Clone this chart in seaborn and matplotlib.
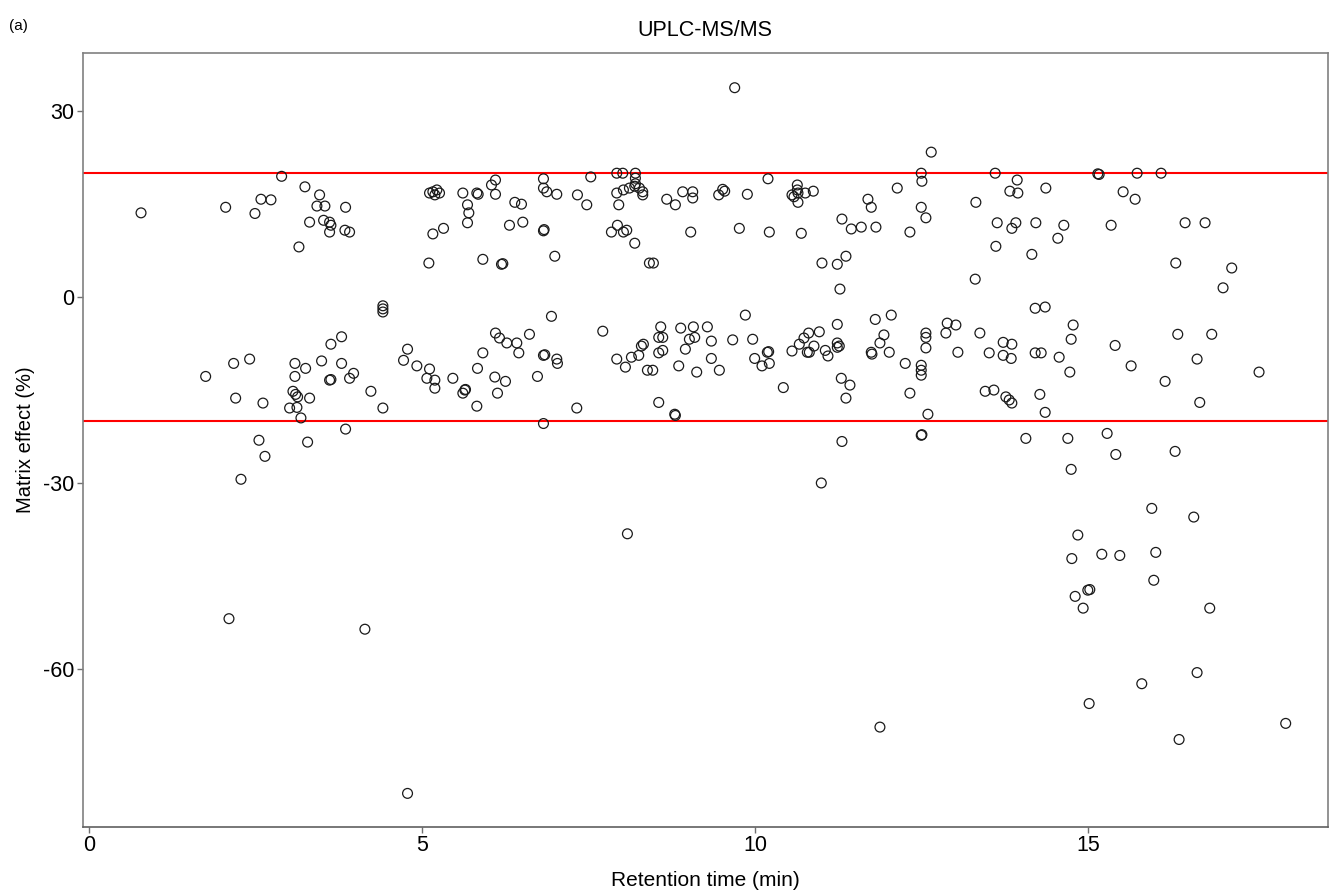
import numpy as np
import pandas as pd
import seaborn as sns
import matplotlib
matplotlib.use("Agg")
import matplotlib.pyplot as plt

# Retention time (min) and matrix effect (%) -- points above zero
rt_upper = [0.78, 2.05, 2.49, 2.58, 2.73, 2.89, 3.15, 3.24, 3.31, 3.46, 3.42, 3.54, 3.52, 3.61, 3.61,
            3.63, 3.84, 3.91, 3.85, 5.11, 5.16, 5.22, 5.26, 5.19, 5.61, 5.82, 5.84, 5.68, 5.70, 5.68,
            5.16, 5.32, 5.10, 5.91, 6.19, 6.21, 6.10, 6.04, 6.10, 6.39, 6.49, 6.31, 6.51, 6.82, 6.82,
            6.87, 7.02, 6.82, 6.83, 6.99, 7.33, 7.53, 7.47, 7.92, 8.01, 8.20, 8.20, 8.20, 7.92, 8.02,
            8.11, 8.19, 8.26, 8.31, 8.31, 7.95, 7.93, 7.84, 8.02, 8.07, 8.19, 8.41, 8.47, 8.67, 8.80,
            8.91, 9.06, 9.06, 9.03, 9.45, 9.51, 9.54, 9.69, 9.88, 10.19, 9.76, 10.21, 10.69, 10.63, 10.63,
            10.64, 10.55, 10.58, 10.64, 10.75, 10.87, 11.30, 11.44, 11.59, 11.81, 11.36, 11.23, 11.00, 11.27,
            11.69, 11.74, 12.13, 12.32, 12.64, 12.49, 12.50, 12.49, 12.56, 13.30, 13.31, 13.60, 13.93, 13.82,
            13.94, 13.63, 13.91, 13.85, 14.21, 13.61, 14.15, 14.36, 15.14, 15.16, 15.73, 16.09, 15.52, 15.70,
            14.63, 14.54, 15.34, 16.45, 16.75, 16.31, 17.15, 17.02]
me_upper = [13.6, 14.5, 13.5, 15.8, 15.7, 19.5, 8.1, 17.8, 12.1, 16.5, 14.7, 14.7, 12.4, 12.1, 10.5,
            11.6, 10.8, 10.5, 14.5, 16.8, 17.0, 17.3, 16.8, 16.5, 16.8, 16.8, 16.6, 14.9, 13.6, 12.0,
            10.2, 11.1, 5.5, 6.1, 5.3, 5.4, 18.9, 18.1, 16.6, 15.3, 15.0, 11.6, 12.1, 19.1, 17.6,
            17.0, 16.6, 10.7, 10.9, 6.6, 16.5, 19.4, 14.9, 20.0, 20.0, 20.0, 19.2, 18.3, 16.8, 17.3,
            17.6, 17.9, 17.6, 17.0, 16.5, 14.9, 11.6, 10.5, 10.5, 10.8, 8.7, 5.5, 5.5, 15.8, 14.9,
            17.0, 17.0, 16.0, 10.5, 16.5, 17.4, 17.1, 33.8, 16.6, 19.1, 11.1, 10.5, 10.3, 18.1, 17.3,
            16.8, 16.5, 16.2, 15.3, 16.8, 17.1, 12.6, 11.0, 11.3, 11.3, 6.6, 5.3, 5.5, 1.3,
            15.8, 14.5, 17.6, 10.5, 23.4, 20.0, 18.7, 14.5, 12.8, 2.9, 15.3, 20.0, 18.9, 17.1,
            16.8, 12.0, 12.0, 11.1, 12.0, 8.2, 6.9, 17.6, 19.9, 19.8, 20.0, 20.0, 17.0, 15.8,
            11.6, 9.5, 11.6, 12.0, 12.0, 5.5, 4.7, 1.5]

# Points between 0 and about -36 %
rt_lower = [1.75, 2.17, 2.41, 2.20, 2.61, 2.55, 2.64, 2.28, 3.09, 3.09, 3.25, 3.06, 3.10, 3.13, 3.31,
            3.01, 3.12, 3.18, 3.28, 3.49, 3.61, 3.63, 3.63, 3.79, 3.79, 3.91, 3.97, 4.23, 4.41, 3.85,
            4.41, 4.41, 4.41, 4.78, 4.72, 4.92, 5.11, 5.07, 5.19, 5.19, 5.46, 5.64, 5.61, 5.65, 5.82,
            5.91, 5.83, 6.09, 6.25, 6.13, 6.10, 6.16, 6.27, 6.42, 6.45, 6.61, 6.82, 6.84, 6.94, 7.02,
            7.03, 6.73, 6.82, 7.32, 7.71, 7.92, 8.05, 8.14, 8.25, 8.29, 8.32, 8.38, 8.46, 8.55, 8.61,
            8.58, 8.55, 8.61, 8.55, 8.79, 8.80, 8.88, 8.85, 9.01, 9.07, 9.09, 8.95, 9.12, 9.28, 9.34,
            9.34, 9.46, 9.66, 9.85, 9.96, 9.99, 10.10, 10.21, 10.18, 10.20, 10.42, 10.55, 10.66, 10.73,
            10.80, 10.96, 10.78, 10.81, 10.88, 11.05, 11.09, 11.23, 11.23, 11.26, 11.23, 11.29, 11.42,
            11.36, 11.30, 10.99, 11.80, 12.04, 11.74, 11.75, 11.87, 11.93, 12.01, 12.25, 12.32, 12.49,
            12.49, 12.49, 12.56, 12.56, 12.56, 12.59, 12.49, 12.50, 12.88, 13.01, 12.86, 13.04, 13.37,
            13.51, 13.72, 13.85, 13.72, 13.84, 13.45, 13.58, 13.76, 13.81, 13.85, 14.06, 14.20, 14.35,
            14.20, 14.29, 14.27, 14.35, 14.77, 14.74, 15.40, 16.34, 16.85, 14.56, 14.72, 15.64, 16.15,
            16.63, 17.56, 16.67, 14.69, 14.74, 15.28, 15.41, 16.30, 15.95, 16.58]
me_lower = [-12.8, -10.7, -10.0, -16.3, -17.1, -23.1, -25.7, -29.4, -10.7, -12.8, -11.5, -15.2, -15.7, -16.1, -16.3,
            -17.9, -17.8, -19.5, -23.4, -10.3, -13.4, -13.3, -7.6, -6.4, -10.7, -13.1, -12.3, -15.2, -17.9, -21.3,
            -1.4, -1.9, -2.4, -8.4, -10.2, -11.1, -11.6, -13.1, -13.4, -14.7, -13.1, -15.0, -15.5, -14.9, -17.6,
            -9.0, -11.5, -12.9, -13.6, -15.5, -5.8, -6.6, -7.4, -7.4, -9.0, -6.0, -9.4, -9.3, -3.1, -10.0,
            -10.7, -12.8, -20.4, -17.9, -5.5, -10.0, -11.3, -9.7, -9.4, -7.9, -7.6, -11.8, -11.8, -9.0, -8.6,
            -4.8, -6.5, -6.5, -17.0, -18.9, -19.1, -5.0, -11.1, -6.8, -4.8, -6.5, -8.4, -12.1, -4.8, -7.1,
            -9.9, -11.8, -6.9, -2.9, -6.8, -9.9, -11.1, -10.7, -8.9, -8.8, -14.6, -8.7, -7.6, -6.6,
            -5.8, -5.6, -8.9, -8.9, -7.9, -8.6, -9.5, -4.4, -7.4, -7.9, -8.1, -13.1, -14.2,
            -16.3, -23.3, -30.0, -3.6, -2.9, -8.9, -9.2, -7.4, -6.1, -8.9, -10.7, -15.5, -11.0,
            -11.8, -12.6, -5.8, -6.5, -8.2, -18.9, -22.3, -22.2, -4.2, -4.5, -5.8, -8.9, -5.8,
            -9.0, -7.3, -7.6, -9.4, -9.9, -15.2, -15.0, -16.1, -16.6, -17.1, -22.8, -1.8, -1.6,
            -9.0, -9.0, -15.7, -18.6, -4.5, -6.8, -7.8, -6.0, -6.0, -9.7, -12.1, -11.1, -13.6,
            -10.0, -12.1, -17.0, -22.8, -27.8, -22.0, -25.4, -24.9, -34.1, -35.5]

# Strong suppression (below about -36 %)
rt_low = [2.10, 4.14, 4.78, 8.08, 14.84, 14.75, 15.20, 15.47, 16.01, 15.98, 15.02, 14.99, 14.80, 14.92,
          16.82, 16.63, 15.80, 15.01, 17.96, 16.36, 11.87]
me_low = [-51.9, -53.6, -80.1, -38.2, -38.4, -42.2, -41.5, -41.7, -41.2, -45.7, -47.2, -47.3, -48.3, -50.2,
          -50.2, -60.6, -62.4, -65.6, -68.8, -71.4, -69.4]

limits = [20, -20]
x_ticks = [0, 5, 10, 15]
y_ticks = [-60, -30, 0, 30]

df = pd.DataFrame({
    "rt": rt_upper + rt_lower + rt_low,
    "me": me_upper + me_lower + me_low,
})

sns.set_theme(style="white")
plt.rcParams["font.family"] = ["Liberation Sans", "DejaVu Sans"]
plt.rcParams["axes.unicode_minus"] = False
plt.rcParams["text.color"] = "black"
plt.rcParams["axes.labelcolor"] = "black"
plt.rcParams["xtick.color"] = "black"
plt.rcParams["ytick.color"] = "black"

fig = plt.figure(figsize=(13.29, 8.91), dpi=100)
ax = fig.add_axes([0.0625, 0.072, 0.9365, 0.8685])

sns.scatterplot(data=df, x="rt", y="me", ax=ax, marker="o", s=50,
                facecolor="none", edgecolor="#1a1a1a", linewidth=0.9, zorder=3)

for lim in limits:
    ax.axhline(lim, color="#ff0000", linewidth=1.5, zorder=2)

ax.set_xlim(-0.09, 18.59)
ax.set_ylim(-85.5, 39.4)
ax.set_xticks(x_ticks)
ax.set_yticks(y_ticks)
ax.tick_params(axis="both", which="major", direction="out", length=4, width=1,
               color="#707070", labelcolor="black", labelsize=15.5, pad=2,
               bottom=True, left=True)

for side in ["left", "bottom", "top", "right"]:
    ax.spines[side].set_visible(True)
    ax.spines[side].set_color("#808080")
    ax.spines[side].set_linewidth(1.2)
ax.spines["bottom"].set_color("#606060")

ax.set_xlabel("Retention time (min)", fontsize=15, labelpad=11)
ax.set_ylabel("Matrix effect (%)", fontsize=14.5, labelpad=6)
ax.set_title("UPLC-MS/MS", fontsize=15.5, pad=12)
fig.text(0.007, 0.971, "(a)", fontsize=11, ha="left", va="center")

fig.savefig("out.png", dpi=100)
